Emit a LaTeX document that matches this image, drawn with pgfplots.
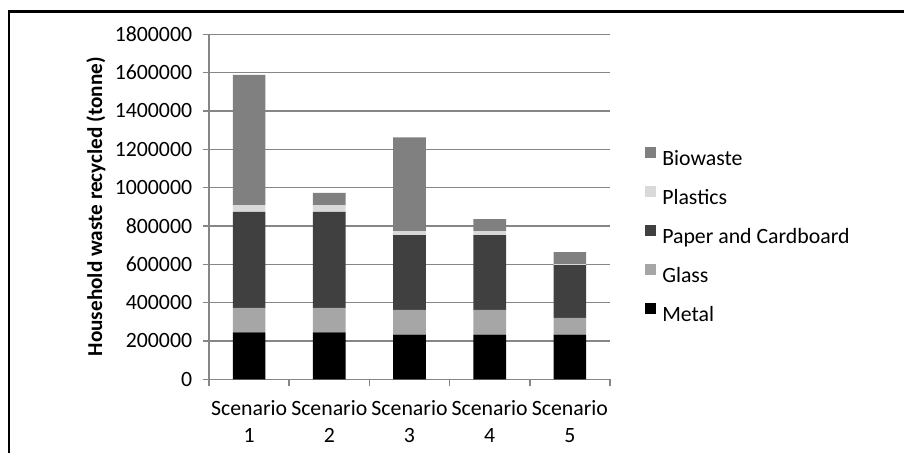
\documentclass[border=0pt]{standalone}
\usepackage{fontspec}
\setmainfont{Carlito}
\usepackage{pgfplots}
\pgfplotsset{compat=1.18}
\usepackage{pgfplotstable}

\definecolor{axgray}{RGB}{134,134,134}
\definecolor{cmetal}{RGB}{0,0,0}
\definecolor{cglass}{RGB}{166,166,166}
\definecolor{cpaper}{RGB}{64,64,64}
\definecolor{cplastics}{RGB}{217,217,217}
\definecolor{cbio}{RGB}{128,128,128}

\pgfplotsset{sq legend/.style={legend image code/.code={\fill[##1] (0pt,0.9pt) rectangle (5.7pt,6.6pt);}}}

% household waste recycled per scenario (tonne)
\pgfplotstableread{
x metal glass paper plastics bio
0 245000 128000 501000 35000 679000
1 245000 128000 501000 35000 64000
2 233000 129000 390000 21000 489000
3 233000 129000 390000 21000 63000
4 233000  88000 275000  5000 62000
}\waste

\begin{document}
\begin{tikzpicture}[font=\fontsize{10.9}{13}\selectfont]
\useasboundingbox (0,0) rectangle (452pt,226pt);
\draw[line width=1.3pt] (4.5pt,-2pt) -- (4.5pt,220.4pt) -- (454pt,220.4pt);
\begin{axis}[
    at={(104.5pt,36.35pt)}, anchor=south west,
    scale only axis,
    width=200.5pt, height=172.5pt,
    ybar stacked, bar width=16.35pt,
    xmin=-0.5, xmax=4.5,
    ymin=0, ymax=1800000,
    ytick={0,200000,...,1800000},
    scaled y ticks=false,
    /pgf/number format/.cd, fixed, 1000 sep={}, assume math mode=true, /pgfplots/.cd,
    xtick={-0.5,0.5,...,4.5},
    xticklabels={},
    extra x ticks={0,1,2,3,4},
    extra x tick labels={Scenario\\1,Scenario\\2,Scenario\\3,Scenario\\4,Scenario\\5},
    extra x tick style={major tick length=0pt},
    xticklabel style={align=center, inner sep=0pt, yshift=-10.5pt, font=\fontsize{10.9}{13.4}\selectfont},
    yticklabel style={inner sep=0pt, xshift=-5pt, font=\fontsize{10.9}{13}\selectfont},
    axis x line*=bottom, axis y line*=left,
    axis line style={axgray, line width=0.75pt, -},
    tick align=outside, major tick length=3.25pt,
    tick style={axgray, line width=0.75pt},
    ymajorgrids, grid style={axgray, line width=0.75pt},
    ylabel={Household waste recycled (tonne)},
    ylabel style={at={(axis description cs:-0.257,0.5)}, anchor=south, inner sep=0pt, font=\fontsize{10.6}{12.6}\selectfont\bfseries},
    reverse legend,
    legend cell align=left,
    legend style={at={(axis description cs:1.087,0.674)}, anchor=north west,
        draw=none, fill=none, inner sep=0pt, outer sep=0pt,
        row sep=8.3pt, column sep=3pt,
        nodes={inner sep=0pt, text height=7.2pt, text depth=2pt},
        font=\fontsize{10.9}{13}\selectfont},
]
\addplot[fill=cmetal, draw=none, sq legend] table[x=x, y=metal] {\waste};
\addplot[fill=cglass, draw=none, sq legend] table[x=x, y=glass] {\waste};
\addplot[fill=cpaper, draw=none, sq legend] table[x=x, y=paper] {\waste};
\addplot[fill=cplastics, draw=none, sq legend] table[x=x, y=plastics] {\waste};
\addplot[fill=cbio, draw=none, sq legend] table[x=x, y=bio] {\waste};
\legend{Metal, Glass, Paper and Cardboard, Plastics, Biowaste}
\end{axis}
\end{tikzpicture}
\end{document}
